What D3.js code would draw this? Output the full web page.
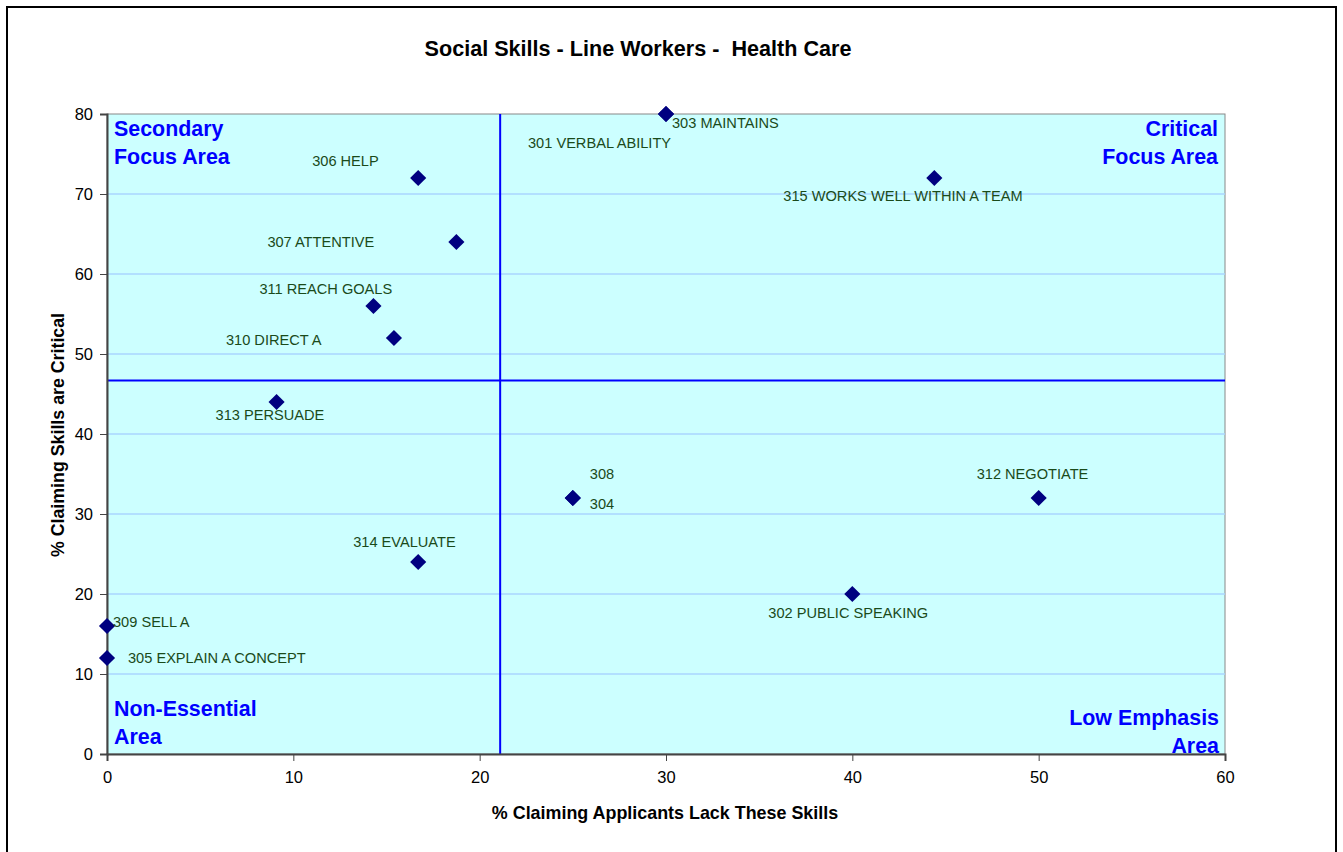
<!DOCTYPE html>
<html>
<head>
<meta charset="utf-8">
<script src="https://cdn.jsdelivr.net/npm/d3@7"></script>
<style>
  body { margin: 0; background: #fff; }
  text { font-family: Arial, "Liberation Sans", sans-serif; }
</style>
</head>
<body>
<div id="chart"></div>
<script>
// skill codes and names, as labelled on the chart
const codes = ['303', '301', '306', '315', '307', '311', '310', '313', '308', '304', '312', '302', '314', '309', '305'];
const names = ['MAINTAINS', 'VERBAL ABILITY', 'HELP', 'WORKS WELL WITHIN A TEAM', 'ATTENTIVE', 'REACH GOALS',
  'DIRECT A', 'PERSUADE', '', '', 'NEGOTIATE', 'PUBLIC SPEAKING', 'EVALUATE', 'SELL A', 'EXPLAIN A CONCEPT'];
// % claiming applicants lack the skill (x) and % claiming it is critical (y)
const lackPct = [30, 30, 16.7, 44.4, 18.75, 14.3, 15.4, 9.1, 25, 25, 50, 40, 16.7, 0, 0];
const criticalPct = [80, 80, 72, 72, 64, 56, 52, 44, 32, 32, 32, 20, 24, 16, 12];

// quadrant dividers
const lackDivider = 21.1;
const criticalDivider = 46.7;

const xTicks = [0, 10, 20, 30, 40, 50, 60];
const yTicks = [0, 10, 20, 30, 40, 50, 60, 70, 80];

// where each data label sits relative to its marker (px)
const labelNudge = {
  '303': [6, 9], '301': [-138, 29], '306': [-106, -17], '315': [-151, 18], '307': [-189, 0],
  '311': [-114, -17], '310': [-168, 2], '313': [-61, 13], '308': [17, -24], '304': [17, 6],
  '312': [-62, -24], '302': [-84, 19], '314': [-65, -20], '309': [6, -4], '305': [21, 0]
};

const data = codes.map((c, i) => ({
  code: c,
  label: names[i] ? c + ' ' + names[i] : c,
  x: lackPct[i],
  y: criticalPct[i]
}));

const width = 1343;
const height = 852;
const plotLeft = 107, plotRight = 1225, plotTop = 114, plotBottom = 754;

const svg = d3.select('#chart')
  .append('svg')
  .attr('width', width)
  .attr('height', height);

// outer chart frame (bottom edge runs off the page)
svg.append('rect')
  .attr('x', 7).attr('y', 7)
  .attr('width', 1329).attr('height', 860)
  .attr('fill', '#fff')
  .attr('stroke', '#000')
  .attr('stroke-width', 2);

const x = d3.scaleLinear().domain([0, 60]).range([plotLeft, plotRight]);
const y = d3.scaleLinear().domain([0, 80]).range([plotBottom, plotTop]);

// plot area
svg.append('rect')
  .attr('x', plotLeft).attr('y', plotTop)
  .attr('width', plotRight - plotLeft).attr('height', plotBottom - plotTop)
  .attr('fill', '#ccffff')
  .attr('stroke', '#888')
  .attr('stroke-width', 1);

svg.append('g')
  .selectAll('line')
  .data(yTicks.filter(t => t > 0 && t < 80))
  .join('line')
  .attr('x1', plotLeft).attr('x2', plotRight)
  .attr('y1', d => y(d)).attr('y2', d => y(d))
  .attr('stroke', '#aad6ff')
  .attr('stroke-width', 1.5);

// quadrant lines
svg.append('line')
  .attr('x1', x(lackDivider)).attr('x2', x(lackDivider))
  .attr('y1', plotTop).attr('y2', plotBottom)
  .attr('stroke', '#0000ff').attr('stroke-width', 2);
svg.append('line')
  .attr('x1', plotLeft).attr('x2', plotRight)
  .attr('y1', y(criticalDivider)).attr('y2', y(criticalDivider))
  .attr('stroke', '#0000ff').attr('stroke-width', 2);

// axes
const xAxis = d3.axisBottom(x).tickValues(xTicks).tickSize(7).tickPadding(10);
const yAxis = d3.axisLeft(y).tickValues(yTicks).tickSize(7).tickPadding(7);

const gx = svg.append('g')
  .attr('transform', `translate(0, ${plotBottom})`)
  .call(xAxis);
const gy = svg.append('g')
  .attr('transform', `translate(${plotLeft}, 0)`)
  .call(yAxis);

[gx, gy].forEach(g => {
  g.select('.domain').attr('stroke', '#444').attr('stroke-width', 2);
  g.selectAll('.tick line').attr('stroke', '#444');
  g.selectAll('.tick text')
    .attr('fill', '#000')
    .style('font-family', '"Liberation Sans Narrow", "Arial Narrow", Arial, sans-serif')
    .style('font-size', '16.5px');
});

// quadrant names
const quadrants = [
  { lines: ['Secondary', 'Focus Area'], x: 114, y: 136, anchor: 'start' },
  { lines: ['Critical', 'Focus Area'], x: 1218, y: 136, anchor: 'end' },
  { lines: ['Non-Essential', 'Area'], x: 114, y: 716, anchor: 'start' },
  { lines: ['Low Emphasis', 'Area'], x: 1219, y: 725, anchor: 'end' }
];
quadrants.forEach(q => {
  const t = svg.append('text')
    .attr('x', q.x).attr('y', q.y)
    .attr('text-anchor', q.anchor)
    .attr('fill', '#0000ff')
    .style('font-size', '21.4px')
    .style('font-weight', 'bold');
  q.lines.forEach((l, i) => {
    t.append('tspan').attr('x', q.x).attr('dy', i ? 27.5 : 0).text(l);
  });
});

// markers
svg.append('g')
  .selectAll('path')
  .data(data)
  .join('path')
  .attr('d', d3.symbol(d3.symbolSquare, 130))
  .attr('transform', d => `translate(${x(d.x)}, ${y(d.y)}) rotate(45)`)
  .attr('fill', '#000080');

// data labels
svg.append('g')
  .selectAll('text')
  .data(data)
  .join('text')
  .attr('x', d => x(d.x) + labelNudge[d.code][0])
  .attr('y', d => y(d.y) + labelNudge[d.code][1])
  .attr('dy', '0.36em')
  .attr('fill', '#1a4a1a')
  .style('font-size', '14.6px')
  .text(d => d.label);

// titles
svg.append('text')
  .attr('x', 638).attr('y', 56)
  .attr('text-anchor', 'middle')
  .style('font-size', '21.6px')
  .style('font-weight', 'bold')
  .style('white-space', 'pre')
  .text('Social Skills - Line Workers -  Health Care');

svg.append('text')
  .attr('x', 665).attr('y', 819)
  .attr('text-anchor', 'middle')
  .style('font-size', '17.9px')
  .style('font-weight', 'bold')
  .text('% Claiming Applicants Lack These Skills');

svg.append('text')
  .attr('transform', `translate(64, 435) rotate(-90)`)
  .attr('text-anchor', 'middle')
  .style('font-size', '17.8px')
  .style('font-weight', 'bold')
  .text('% Claiming Skills are Critical');
</script>
</body>
</html>
